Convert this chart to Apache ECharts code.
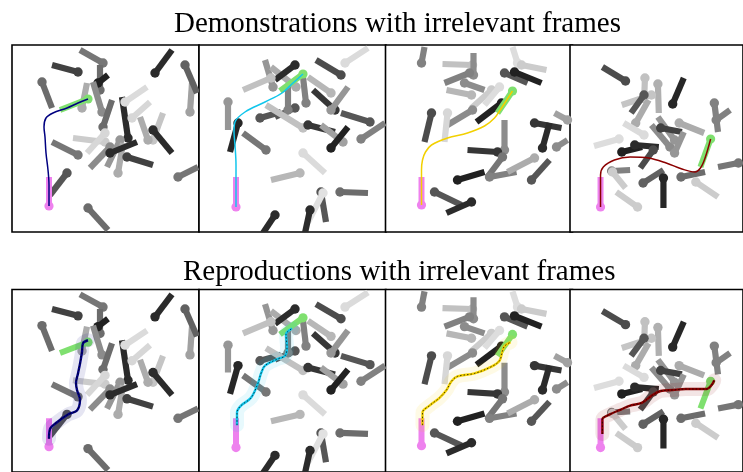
<!DOCTYPE html>
<html>
<head>
<meta charset="utf-8">
<script src="https://cdn.jsdelivr.net/npm/echarts@6/dist/echarts.min.js"></script>
<style>
  html, body { margin: 0; padding: 0; background: #ffffff; }
  #chart { width: 743px; height: 472px; }
</style>
</head>
<body>
<div id="chart"></div>
<script>
// Row titles
const rowTitles = ['Demonstrations with irrelevant frames', 'Reproductions with irrelevant frames'];

// Irrelevant frames of each scene: [originX, originY, axisEndX, axisEndY, shade (0 = black, 1 = white)]
const framesScene1 = [
  [91, 18, 68, 5, 0.45], [88, 45, 88, 20, 0.4], [66, 27, 40, 20, 0.2], [86, 38, 96, 30, 0.05],
  [143, 28, 160, 5, 0.1], [178, 67, 180, 38, 0.65], [173, 20, 185, 48, 0.35], [30, 37, 40, 63, 0.4],
  [70, 63, 75, 38, 0.7], [90, 67, 81, 37, 0.55], [91, 82, 100, 55, 0.4], [116, 93, 110, 52, 0.1],
  [113, 57, 135, 42, 0.92], [120, 73, 138, 57, 0.9], [141, 95, 151, 68, 0.82], [136, 95, 128, 72, 0.7],
  [141, 85, 160, 108, 0.1], [66, 110, 40, 97, 0.45], [93, 97, 61, 93, 0.85], [93, 88, 75, 108, 0.9],
  [98, 102, 78, 123, 0.55], [108, 95, 95, 122, 0.6], [106, 128, 111, 98, 0.7], [98, 108, 125, 97, 0.1],
  [115, 112, 141, 120, 0.2], [55, 128, 38, 150, 0.3], [166, 132, 186, 122, 0.45], [76, 163, 96, 185, 0.4]
];
const framesScene2 = [
  [146, 18, 169, 3, 0.92], [74, 42, 66, 15, 0.6], [97, 42, 72, 22, 0.7], [96, 20, 76, 35, 0.1],
  [72, 33, 44, 45, 0.8], [142, 30, 117, 15, 0.25], [132, 48, 109, 32, 0.75], [107, 58, 104, 32, 0.5],
  [136, 65, 114, 45, 0.15], [132, 65, 149, 42, 0.6], [29, 57, 29, 85, 0.6], [39, 78, 31, 107, 0.08],
  [67, 105, 44, 88, 0.45], [61, 73, 82, 67, 0.3], [96, 63, 76, 72, 0.3], [89, 65, 89, 40, 0.5],
  [104, 83, 67, 60, 0.8], [171, 77, 142, 68, 0.3], [162, 94, 186, 78, 0.5], [109, 80, 136, 87, 0.15],
  [144, 97, 122, 80, 0.65], [132, 103, 149, 82, 0.05], [104, 108, 126, 128, 0.92], [101, 128, 72, 135, 0.75],
  [141, 147, 169, 148, 0.4], [122, 147, 127, 177, 0.3], [124, 148, 109, 177, 0.95], [76, 170, 64, 188, 0.1],
  [111, 165, 106, 188, 0.1]
];
const framesScene3 = [
  [36, 18, 39, 2, 0.5], [87, 20, 57, 19, 0.8], [88, 30, 88, 8, 0.55], [132, 18, 127, 2, 0.93],
  [136, 20, 161, 25, 0.85], [119, 28, 142, 38, 0.3], [129, 27, 156, 38, 0.05], [84, 28, 59, 38, 0.5],
  [79, 38, 99, 45, 0.55], [86, 50, 61, 45, 0.75], [106, 45, 86, 63, 0.85], [114, 42, 99, 60, 0.93],
  [116, 58, 91, 77, 0.05], [87, 65, 62, 80, 0.55], [46, 68, 39, 97, 0.25], [62, 68, 59, 97, 0.9],
  [119, 105, 119, 75, 0.55], [112, 107, 82, 105, 0.15], [117, 112, 102, 132, 0.45], [104, 132, 131, 127, 0.5],
  [149, 113, 122, 127, 0.7], [146, 135, 164, 115, 0.3], [72, 135, 99, 127, 0.05], [49, 147, 76, 160, 0.3],
  [86, 157, 61, 168, 0.1], [182, 75, 169, 68, 0.65], [149, 78, 176, 83, 0.15], [157, 103, 164, 78, 0.1],
  [171, 102, 182, 95, 0.55]
];
const framesScene4 = [
  [60, 36, 35, 22, 0.25], [81, 33, 80, 58, 0.8], [95, 39, 96, 68, 0.72], [88, 50, 56, 60, 0.82],
  [111, 59, 123, 33, 0.08], [80, 50, 66, 68, 0.3], [71, 78, 85, 55, 0.7], [156, 58, 160, 87, 0.5],
  [158, 75, 173, 65, 0.5], [80, 90, 58, 78, 0.92], [53, 94, 26, 101, 0.93], [108, 102, 88, 80, 0.55],
  [113, 95, 95, 72, 0.6], [98, 83, 121, 87, 0.2], [118, 78, 145, 88, 0.7], [113, 108, 123, 87, 0.6],
  [56, 107, 78, 102, 0.05], [70, 100, 96, 102, 0.1], [90, 105, 76, 123, 0.25], [45, 126, 65, 125, 0.5],
  [79, 138, 101, 125, 0.35], [101, 133, 101, 163, 0.08], [46, 127, 60, 143, 0.85], [73, 162, 50, 147, 0.85],
  [120, 132, 146, 127, 0.4], [136, 137, 160, 152, 0.85], [182, 118, 160, 122, 0.45]
];
const sceneFrames = [framesScene1, framesScene2, framesScene3, framesScene4];

// Start frame (origin, axis end) and target frame (origin, axis end) of each scene
const startFrames = [[37, 161, 37, 132], [37, 162, 37, 132], [36, 160, 36, 132], [33, 162, 33, 132]];
const targetFrames = [[76, 54, 48, 65], [104, 29, 81, 46], [127, 46, 112, 68], [152, 94, 141, 122]];

// Demonstrated trajectories
const demoPaths = [
  [[37, 161], [37, 140], [36, 125], [34, 108], [33, 92], [32, 82], [34, 73], [41, 68], [55, 63], [66, 58], [76, 54]],
  [[37, 162], [37, 140], [37, 120], [36, 100], [35, 87], [36, 77], [46, 67], [66, 57], [83, 48], [94, 38], [104, 29]],
  [[36, 160], [36, 140], [36, 125], [37, 115], [40, 107], [46, 100], [62, 93], [82, 88], [99, 81], [109, 73], [116, 63], [127, 46]],
  [[33, 162], [33, 145], [33, 130], [36, 122], [48, 115], [65, 112], [85, 113], [104, 118], [121, 124], [135, 127], [141, 123], [146, 113], [152, 94]]
];

// Reproduced trajectories
const reproPaths = [
  [[37, 153], [38, 143], [45, 136], [56, 128], [65, 124], [68, 113], [65, 103], [64, 96], [66, 86], [68, 76], [70, 64], [71, 55], [76, 52]],
  [[38, 139], [38, 126], [42, 119], [52, 111], [59, 96], [62, 86], [66, 78], [79, 71], [86, 68], [88, 59], [87, 46], [93, 40]],
  [[37, 139], [37, 126], [44, 119], [54, 111], [61, 103], [66, 94], [72, 89], [89, 86], [106, 79], [114, 73], [117, 63], [119, 58], [125, 54]],
  [[35, 148], [35, 133], [43, 128], [55, 123], [65, 119], [78, 116], [88, 109], [98, 104], [111, 103], [125, 102], [138, 102], [148, 102], [153, 98], [156, 93]]
];

const pathColors = ['#000080', '#12c6ec', '#f2d000', '#8b0000'];
const colLefts = [12, 199, 385.5, 570];
const rowTops = [45, 289.5];
const titleLefts = [169, 178];
const PANEL = 187;

function shadeColor(s) {
  const v = Math.round(22 + s * 214);
  return 'rgb(' + v + ',' + v + ',' + v + ')';
}

function makeFrameRenderer(colorOf, lineW, dotR) {
  return function (params, api) {
    const p0 = api.coord([api.value(0), api.value(1)]);
    const p1 = api.coord([api.value(2), api.value(3)]);
    const color = colorOf(params, api);
    return {
      type: 'group',
      children: [
        { type: 'line', shape: { x1: p0[0], y1: p0[1], x2: p1[0], y2: p1[1] },
          style: { stroke: color, lineWidth: lineW, lineCap: 'butt' } },
        { type: 'circle', shape: { cx: p0[0], cy: p0[1], r: dotR }, style: { fill: color } }
      ]
    };
  };
}

const grids = [], xAxes = [], yAxes = [], series = [];
for (let r = 0; r < 2; r++) {
  for (let c = 0; c < 4; c++) {
    const idx = r * 4 + c;
    grids.push({ left: colLefts[c], top: rowTops[r], width: PANEL, height: PANEL,
      show: true, borderColor: '#000', borderWidth: 1.6, backgroundColor: '#fff' });
    xAxes.push({ type: 'value', gridIndex: idx, min: 0, max: PANEL, show: false });
    yAxes.push({ type: 'value', gridIndex: idx, min: 0, max: PANEL, inverse: true, show: false });

    series.push({
      type: 'custom', xAxisIndex: idx, yAxisIndex: idx, clip: true, z: 2, silent: true,
      renderItem: makeFrameRenderer((p, api) => shadeColor(api.value(4)), 6.2, 4.7),
      data: sceneFrames[c]
    });
    series.push({
      type: 'custom', xAxisIndex: idx, yAxisIndex: idx, clip: true, z: 3, silent: true,
      renderItem: makeFrameRenderer((p) => (p.dataIndex === 0 ? '#ee82ee' : '#7fe06f'), 6, 4.6),
      data: [startFrames[c], targetFrames[c]]
    });

    if (r === 0) {
      series.push({
        type: 'line', xAxisIndex: idx, yAxisIndex: idx, z: 5, silent: true, smooth: 0.35,
        showSymbol: false, clip: true, data: demoPaths[c],
        lineStyle: { color: pathColors[c], width: 1.5 }
      });
    } else {
      series.push({
        type: 'line', xAxisIndex: idx, yAxisIndex: idx, z: 4, silent: true, smooth: 0.35,
        showSymbol: false, clip: true, data: reproPaths[c],
        lineStyle: { color: pathColors[c], width: 14, opacity: 0.1, cap: 'round', join: 'round' }
      });
      series.push({
        type: 'line', xAxisIndex: idx, yAxisIndex: idx, z: 5, silent: true, smooth: 0.35,
        showSymbol: false, clip: true, data: reproPaths[c],
        lineStyle: { color: pathColors[c], width: 2.4 }
      });
      series.push({
        type: 'line', xAxisIndex: idx, yAxisIndex: idx, z: 6, silent: true, smooth: 0.35,
        showSymbol: false, clip: true, data: reproPaths[c],
        lineStyle: { color: '#000', width: 0.9, type: [1.5, 2], opacity: 0.8 }
      });
    }
  }
}

const chart = echarts.init(document.getElementById('chart'), null, { renderer: 'canvas' });
chart.setOption({
  animation: false,
  backgroundColor: '#fff',
  title: [
    { text: rowTitles[0], left: titleLefts[0], top: 5,
      textStyle: { fontFamily: 'Liberation Serif', fontSize: 29, fontWeight: 'normal', color: '#000' } },
    { text: rowTitles[1], left: titleLefts[1], top: 253,
      textStyle: { fontFamily: 'Liberation Serif', fontSize: 29, fontWeight: 'normal', color: '#000' } }
  ],
  grid: grids,
  xAxis: xAxes,
  yAxis: yAxes,
  series: series
});
</script>
</body>
</html>
